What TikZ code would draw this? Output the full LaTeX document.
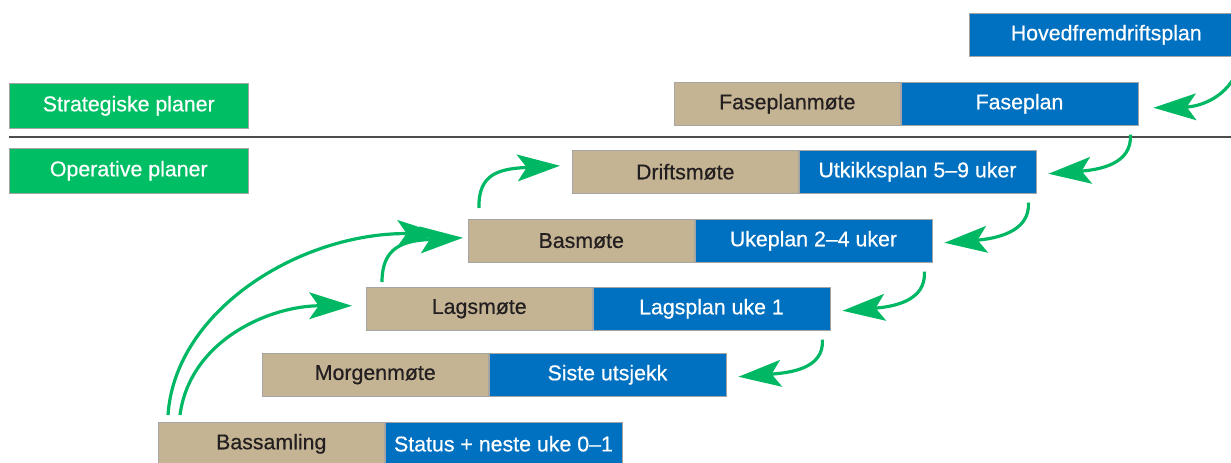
\documentclass[tikz,border=0pt]{standalone}
\usepackage{fontspec}
\setmainfont{Liberation Sans}[BoldFont=Liberation Sans, BoldFeatures={FakeBold=0.5}]
\usetikzlibrary{positioning, arrows.meta}
\definecolor{tanbox}{RGB}{196,180,148}
\definecolor{planblue}{RGB}{0,112,192}
\definecolor{levelgreen}{RGB}{0,190,100}
\definecolor{flowgreen}{RGB}{0,184,100}
\definecolor{boxline}{RGB}{165,165,165}
\definecolor{darktext}{RGB}{35,31,32}

\begin{document}
\begin{tikzpicture}[
		x=0.75pt, y=-0.75pt,
		every node/.style={font=\fontsize{16}{19}\selectfont\bfseries, inner sep=0pt},
		meeting/.style={draw=boxline, fill=tanbox, text=darktext, minimum width=169.5pt, minimum height=32.25pt, anchor=north west},
		plan/.style={draw=boxline, fill=planblue, text=white, minimum width=178pt, minimum height=32.25pt},
		level/.style={draw=boxline, fill=levelgreen, text=white, minimum width=179.25pt, minimum height=33.75pt, anchor=north west},
		flow/.style={draw=flowgreen, line width=2.4pt, -{Stealth[length=32pt, width=20pt, inset=7pt]}}
	]
	\useasboundingbox (0,0) rectangle (1231,463);
	\clip (0,0) rectangle (1231,463);

	\node[level] (strat) at (9,83) {Strategiske planer};
	\node[level] (oper) at (9,148) {Operative planer};
	\coordinate (sepL) at (9,137);
	\coordinate (sepR) at (1231,137);
	\draw[line width=1.1pt, draw=black!70] (sepL) -- (sepR);

	\node[plan, minimum width=205.5pt, anchor=north west] (hoved) at (969,13) {Hovedfremdriftsplan};
	\node[meeting] (fasem) at (674,82) {Faseplanmøte};
	\node[plan, right=0pt of fasem] (fase) {Faseplan};
	\node[meeting] (drift) at (572,150) {Driftsmøte};
	\node[plan, right=0pt of drift] (utkikk) {Utkikksplan 5–9 uker};
	\node[meeting] (bas) at (468,219) {Basmøte};
	\node[plan, right=0pt of bas] (ukeplan) {Ukeplan 2–4 uker};
	\node[meeting] (lag) at (366,287) {Lagsmøte};
	\node[plan, right=0pt of lag] (lagsplan) {Lagsplan uke 1};
	\node[meeting] (morgen) at (262,353) {Morgenmøte};
	\node[plan, right=0pt of morgen] (siste) {Siste utsjekk};
	\node[meeting] (samling) at (158,422) {Bassamling};
	\node[plan, right=0pt of samling] (status) {Status + neste uke 0–1};

	\coordinate (hovedout) at (1236,74);
	\draw[flow] (hovedout) .. controls +(-12,25) and +(45,-1) .. ([shift={(15,4)}]fase.east);
	\draw[flow] ([shift={(-8,9)}]fase.south east) .. controls +(2,30) and +(50,-4) .. ([shift={(12,2)}]utkikk.east);
	\draw[flow] ([shift={(-8,9)}]utkikk.south east) .. controls +(2,30) and +(50,-4) .. ([shift={(12,2)}]ukeplan.east);
	\draw[flow] ([shift={(-8,9)}]ukeplan.south east) .. controls +(2,30) and +(50,-4) .. ([shift={(12,2)}]lagsplan.east);
	\draw[flow] ([shift={(-8,9)}]lagsplan.south east) .. controls +(2,30) and +(50,-4) .. ([shift={(12,2)}]siste.east);

	\draw[flow] ([shift={(11,-11)}]bas.north west) .. controls +(-1,-35) and +(-60,3) .. ([shift={(-12,-6)}]drift.west);
	\draw[flow] ([shift={(16,-5)}]lag.north west) .. controls +(0,-35) and +(-60,3) .. ([shift={(-5,-3)}]bas.west);
	\draw[flow] ([shift={(22,-7)}]samling.north west) .. controls +(10,-75) and +(-82,0) .. ([shift={(-14,-3)}]lag.west);
	\draw[flow] ([shift={(10,-7)}]samling.north west) .. controls +(7,-105) and +(-140,-1) .. ([shift={(-28,-7)}]bas.west);
\end{tikzpicture}
\end{document}
